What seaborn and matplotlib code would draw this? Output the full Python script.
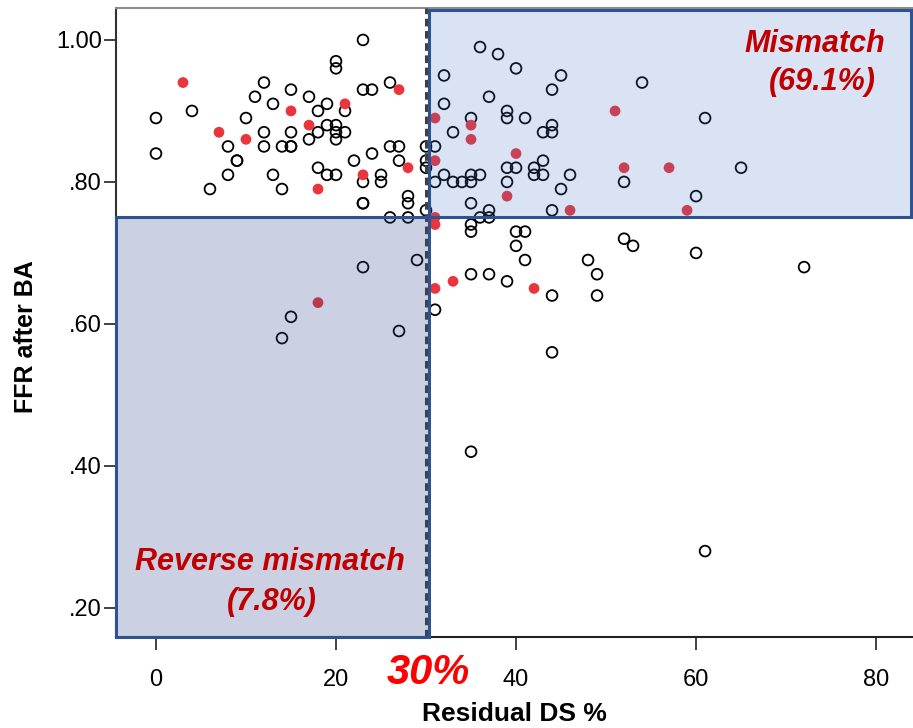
import numpy as np
import pandas as pd
import seaborn as sns
import matplotlib.pyplot as plt
from matplotlib.patches import Rectangle

# open circles (no red)
open_x = [0, 0, 4, 6, 8, 8, 9, 9, 10, 11, 12, 12, 12, 13, 13, 14, 14, 14, 15, 15, 15, 15, 15,
          17, 17, 18, 18, 18, 19, 19, 19, 20, 20, 20, 20, 20, 20, 21, 21, 22, 23, 23, 23, 23, 23, 23,
          24, 24, 25, 25, 26, 26, 26, 27, 27, 27, 28, 28, 28, 29, 30, 30, 30, 30,
          31, 31, 31, 32, 32, 32, 33, 33, 34, 35, 35, 35, 35, 35, 35, 35, 35, 36, 36, 36,
          37, 37, 37, 37, 38, 39, 39, 39, 39, 39, 40, 40, 40, 40, 41, 41, 41, 42, 42,
          43, 43, 43, 44, 44, 44, 44, 44, 44, 45, 45, 46, 48, 49, 49, 52, 52, 53, 54,
          60, 60, 61, 61, 65, 72]
open_y = [0.89, 0.84, 0.90, 0.79, 0.85, 0.81, 0.83, 0.83, 0.89, 0.92, 0.94, 0.87, 0.85, 0.91, 0.81,
          0.85, 0.79, 0.58, 0.93, 0.87, 0.85, 0.61, 0.85,
          0.92, 0.86, 0.90, 0.87, 0.82, 0.91, 0.88, 0.81, 0.97, 0.96, 0.88, 0.87, 0.86, 0.81,
          0.90, 0.87, 0.83, 1.00, 0.93, 0.80, 0.77, 0.77, 0.68,
          0.93, 0.84, 0.81, 0.80, 0.94, 0.85, 0.75, 0.85, 0.83, 0.59, 0.78, 0.77, 0.75, 0.69,
          0.85, 0.83, 0.82, 0.76,
          0.85, 0.80, 0.62, 0.95, 0.91, 0.81, 0.87, 0.80, 0.80, 0.89, 0.81, 0.80, 0.77, 0.74,
          0.73, 0.67, 0.42, 0.99, 0.81, 0.75,
          0.92, 0.76, 0.75, 0.67, 0.98, 0.90, 0.89, 0.82, 0.80, 0.66, 0.96, 0.82, 0.73, 0.71,
          0.89, 0.73, 0.69, 0.82, 0.81,
          0.87, 0.83, 0.81, 0.93, 0.88, 0.87, 0.76, 0.64, 0.56, 0.95, 0.79, 0.81, 0.69, 0.67,
          0.64, 0.80, 0.72, 0.71, 0.94,
          0.78, 0.70, 0.89, 0.28, 0.82, 0.68]

# red filled points
red_x = [3, 7, 10, 15, 17, 18, 18, 21, 23, 27, 28, 31, 31, 31, 31, 31, 33, 35, 35, 39, 40,
         42, 46, 51, 52, 57, 59]
red_y = [0.94, 0.87, 0.86, 0.90, 0.88, 0.79, 0.63, 0.91, 0.81, 0.93, 0.82, 0.89, 0.83, 0.75,
         0.74, 0.65, 0.66, 0.88, 0.86, 0.78, 0.84, 0.65, 0.76, 0.90, 0.82, 0.82, 0.76]

x_ticks = [0, 20, 40, 60, 80]
y_ticks = [0.20, 0.40, 0.60, 0.80, 1.00]
y_tick_labels = [".20", ".40", ".60", ".80", "1.00"]

sns.set_style("white")
plt.rcParams['font.family'] = ['Liberation Sans', 'DejaVu Sans']

df_open = pd.DataFrame({"Residual DS %": open_x, "FFR after BA": open_y})
df_red = pd.DataFrame({"Residual DS %": red_x, "FFR after BA": red_y})

fig = plt.figure(figsize=(9.13, 7.28), dpi=100)
ax = fig.add_axes([116 / 913, 91 / 728, 797 / 913, 629 / 728])

sns.scatterplot(data=df_open, x="Residual DS %", y="FFR after BA", ax=ax, s=60,
                facecolors="none", edgecolor="black", linewidth=1.3, zorder=2)
sns.scatterplot(data=df_red, x="Residual DS %", y="FFR after BA", ax=ax, s=60,
                color="#e8363c", edgecolor="none", zorder=2)

xmin, xmax = -4.44, 84.1
ymin, ymax = 0.159, 1.045
ax.set_xlim(xmin, xmax)
ax.set_ylim(ymin, ymax)

# reference lines
ax.axvline(30, color="#404040", lw=2.2, ls=(0, (2.5, 1.5)), zorder=3)
ax.axhline(0.75, color="#7f8fa8", lw=1.8, ls=(0, (3, 2)), zorder=3)

# quadrant boxes
ax.add_patch(Rectangle((xmin, ymin), 30.3 - xmin, 0.75 - ymin,
                       facecolor=(0.2, 0.29, 0.55, 0.25), edgecolor="#2f5290",
                       lw=2.2, zorder=4, clip_on=False))
ax.add_patch(Rectangle((30.35, 0.75), 83.85 - 30.35, 1.042 - 0.75,
                       facecolor=(0.27, 0.45, 0.77, 0.2), edgecolor="#2f5290",
                       lw=2.2, zorder=4, clip_on=False))

ax.text(73.2, 0.994, "Mismatch", color="#c00000", fontsize=22, fontweight="bold",
        fontstyle="italic", ha="center", va="center", zorder=5)
ax.text(74.0, 0.941, "(69.1%)", color="#c00000", fontsize=22, fontweight="bold",
        fontstyle="italic", ha="center", va="center", zorder=5)
ax.text(12.7, 0.265, "Reverse mismatch", color="#c00000", fontsize=22, fontweight="bold",
        fontstyle="italic", ha="center", va="center", zorder=5)
ax.text(12.9, 0.208, "(7.8%)", color="#c00000", fontsize=22, fontweight="bold",
        fontstyle="italic", ha="center", va="center", zorder=5)
ax.text(30.2, 0.108, "30%", color="#ff0000", fontsize=30, fontweight="bold",
        fontstyle="italic", ha="center", va="center", clip_on=False, zorder=5)

ax.set_xticks(x_ticks)
ax.set_yticks(y_ticks)
ax.set_yticklabels(y_tick_labels)
ax.tick_params(axis="y", direction="out", length=9, width=1.3, pad=1, labelsize=17,
               left=True, color="#333333", labelcolor="black")
ax.tick_params(axis="x", direction="out", length=9, width=1.3, pad=14, labelsize=17,
               bottom=True, color="#333333", labelcolor="black")

ax.set_xlabel("Residual DS %", fontsize=19, fontweight="bold", color="black")
ax.set_ylabel("FFR after BA", fontsize=18, fontweight="bold", color="black")
ax.xaxis.set_label_coords(0.5, -0.103)
ax.yaxis.set_label_coords(-0.098, 0.477)

ax.spines["right"].set_visible(False)
ax.spines["top"].set_color("#8c8c8c")
ax.spines["top"].set_linewidth(1.5)
ax.spines["left"].set_color("#333333")
ax.spines["left"].set_linewidth(1.5)
ax.spines["bottom"].set_color("#222222")
ax.spines["bottom"].set_linewidth(1.5)

fig.savefig("out.png", dpi=100)
plt.close()
